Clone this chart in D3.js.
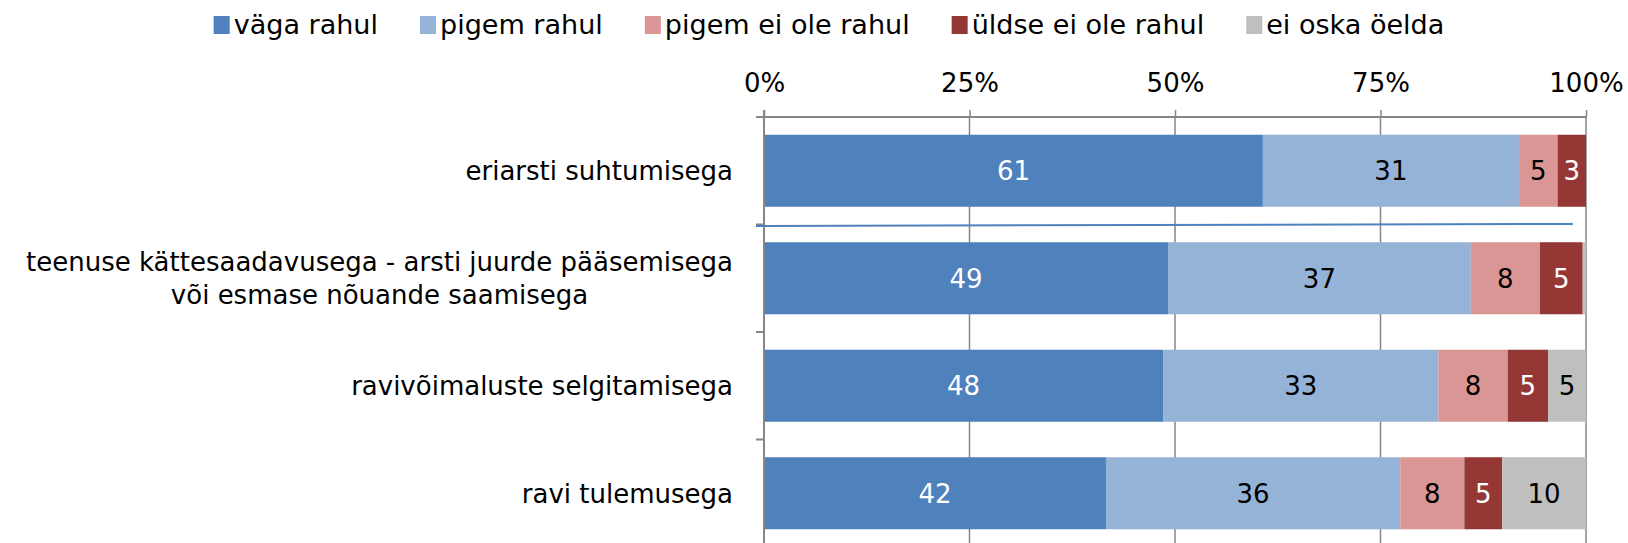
<!DOCTYPE html>
<html>
<head>
<meta charset="utf-8">
<script src="https://cdn.jsdelivr.net/npm/d3@7"></script>
<style>
  body { margin: 0; background: #fff; }
  text { font-family: "DejaVu Sans", Verdana, sans-serif; fill: #000; }
</style>
</head>
<body>
<svg id="chart"></svg>
<script>
// categories (each entry = lines of the label)
const categories = [
    ["eriarsti suhtumisega"],
    ["teenuse kättesaadavusega - arsti juurde pääsemisega", "või esmase nõuande saamisega"],
    ["ravivõimaluste selgitamisega"],
    ["ravi tulemusega"]
];
const seriesNames = ["väga rahul", "pigem rahul", "pigem ei ole rahul", "üldse ei ole rahul", "ei oska öelda"];
const seriesColors = ["#4f81bd", "#95b3d7", "#d99694", "#953735", "#bfbfbf"];
const labelColors = ["#fff", "#000", "#000", "#fff", "#000"];

// shares (%)
const vagaRahul = [60.6, 49.1, 48.4, 41.6];
const pigemRahul = [31.1, 36.8, 33.4, 35.8];
const pigemEiOleRahul = [4.7, 8.4, 8.4, 7.8];
const uldseEiOleRahul = [3.45, 5.2, 4.9, 4.6];
const eiOskaOelda = [0, 0.4, 4.6, 10.2];

const tickValues = [0, 25, 50, 75, 100];

const config = {
    width: 1628,
    height: 543,
    plotLeft: 764,
    plotRight: 1586,
    plotTop: 117,
    plotBottom: 547,
    labelRight: 733,
    fontSize: 26,
    legendStretch: 1.04,
    gridColor: '#868686'
};

const seriesValues = [vagaRahul, pigemRahul, pigemEiOleRahul, uldseEiOleRahul, eiOskaOelda];
const rows = categories.map((c, i) => {
    const row = { key: i };
    seriesNames.forEach((s, j) => row[s] = seriesValues[j][i]);
    return row;
});

const stacked = d3.stack()
    .keys(seriesNames)
    .offset(d3.stackOffsetExpand)(rows);

const svg = d3.select('#chart')
    .attr('width', config.width)
    .attr('height', config.height);

const xScale = d3.scaleLinear()
    .domain([0, 100])
    .range([config.plotLeft, config.plotRight]);

const yScale = d3.scaleBand()
    .domain(categories.map((c, i) => i))
    .range([config.plotTop, config.plotBottom])
    .paddingInner(0.33)
    .paddingOuter(0.165);

const step = yScale.step();
const bandEdge = i => yScale(i) - step * yScale.paddingInner() / 2;

// gridlines
svg.append('g')
    .selectAll('line')
    .data(tickValues.filter(t => t > 0))
    .join('line')
    .attr('x1', d => xScale(d))
    .attr('x2', d => xScale(d))
    .attr('y1', config.plotTop)
    .attr('y2', config.plotBottom)
    .attr('stroke', config.gridColor)
    .attr('stroke-width', 1.5);

// bars
const layers = svg.append('g')
    .selectAll('g')
    .data(stacked)
    .join('g')
    .attr('fill', (d, i) => seriesColors[i]);

layers.selectAll('rect')
    .data(d => d)
    .join('rect')
    .attr('x', d => xScale(d[0] * 100))
    .attr('width', d => xScale(d[1] * 100) - xScale(d[0] * 100))
    .attr('y', (d, i) => yScale(i))
    .attr('height', yScale.bandwidth());

// data labels
layers.each(function(layer, si) {
    d3.select(this).selectAll('text')
        .data(layer.filter(d => d.data[seriesNames[si]] >= 1))
        .join('text')
        .attr('x', d => xScale((d[0] + d[1]) * 50))
        .attr('y', d => yScale(d.data.key) + yScale.bandwidth() / 2)
        .attr('text-anchor', 'middle')
        .attr('dy', '0.36em')
        .attr('font-size', config.fontSize)
        .style('fill', labelColors[si])
        .text(d => Math.round(d.data[seriesNames[si]]));
});

// top axis
const xAxis = d3.axisTop(xScale)
    .tickValues(tickValues)
    .tickFormat(d => d + '%')
    .tickSize(7)
    .tickSizeOuter(0)
    .tickPadding(18);

const xAxisG = svg.append('g')
    .attr('transform', `translate(0,${config.plotTop})`)
    .call(xAxis);
xAxisG.select('.domain').remove();
xAxisG.selectAll('line').attr('stroke', config.gridColor).attr('stroke-width', 1.5);
xAxisG.selectAll('text')
    .attr('font-size', config.fontSize)
    .attr('font-family', null);
xAxisG.append('line')
    .attr('x1', xScale(0) - 8)
    .attr('x2', xScale(100))
    .attr('stroke', config.gridColor)
    .attr('stroke-width', 2);

// left axis with ticks between the categories
const yAxisG = svg.append('g');
yAxisG.append('line')
    .attr('x1', xScale(0))
    .attr('x2', xScale(0))
    .attr('y1', config.plotTop - 7)
    .attr('y2', config.plotBottom)
    .attr('stroke', config.gridColor)
    .attr('stroke-width', 2);
yAxisG.selectAll('line.tick')
    .data(categories.slice(1).map((c, i) => i + 1))
    .join('line')
    .attr('class', 'tick')
    .attr('x1', xScale(0) - 8)
    .attr('x2', xScale(0))
    .attr('y1', d => bandEdge(d))
    .attr('y2', d => bandEdge(d))
    .attr('stroke', config.gridColor)
    .attr('stroke-width', 2);

// category labels
const catG = svg.append('g')
    .selectAll('g')
    .data(categories)
    .join('g')
    .attr('transform', (d, i) => `translate(${config.labelRight},${yScale(i) + yScale.bandwidth() / 2})`);

catG.each(function(lines) {
    const g = d3.select(this);
    if (lines.length === 1) {
        g.append('text')
            .attr('text-anchor', 'end')
            .attr('dy', '0.36em')
            .attr('font-size', config.fontSize)
            .text(lines[0]);
    } else {
        const texts = lines.map((l, k) => g.append('text')
            .attr('text-anchor', 'middle')
            .attr('font-size', config.fontSize)
            .attr('dy', '0.36em')
            .attr('y', (k - (lines.length - 1) / 2) * 33)
            .text(l));
        const maxW = d3.max(texts, t => t.node().getComputedTextLength());
        texts.forEach(t => t.attr('x', -maxW / 2));
    }
});

// stray connector line in the original chart, between rows 1 and 2
svg.append('line')
    .attr('x1', xScale(0) - 8)
    .attr('x2', xScale(98.4))
    .attr('y1', bandEdge(1) + 1.5)
    .attr('y2', bandEdge(1) - 0.5)
    .attr('stroke', seriesColors[0])
    .attr('stroke-width', 2);

// legend
const legend = svg.append('g');
const items = legend.selectAll('g')
    .data(seriesNames)
    .join('g');
items.append('rect')
    .attr('width', 16)
    .attr('height', 18)
    .attr('y', -9)
    .attr('fill', (d, i) => seriesColors[i]);
items.append('text')
    .attr('x', 20)
    .attr('dy', '0.36em')
    .attr('font-size', config.fontSize)
    .attr('transform', `translate(20,0) scale(${config.legendStretch},1) translate(-20,0)`)
    .text(d => d);

let cursor = 0;
const gap = 42;
items.each(function() {
    const g = d3.select(this);
    const w = 20 + g.select('text').node().getComputedTextLength() * config.legendStretch;
    g.attr('data-x', cursor);
    cursor += w + gap;
});
const totalW = cursor - gap;
const legendStart = 829 - totalW / 2;
items.attr('transform', function() {
    return `translate(${legendStart + (+this.getAttribute('data-x'))},25)`;
});
</script>
</body>
</html>
